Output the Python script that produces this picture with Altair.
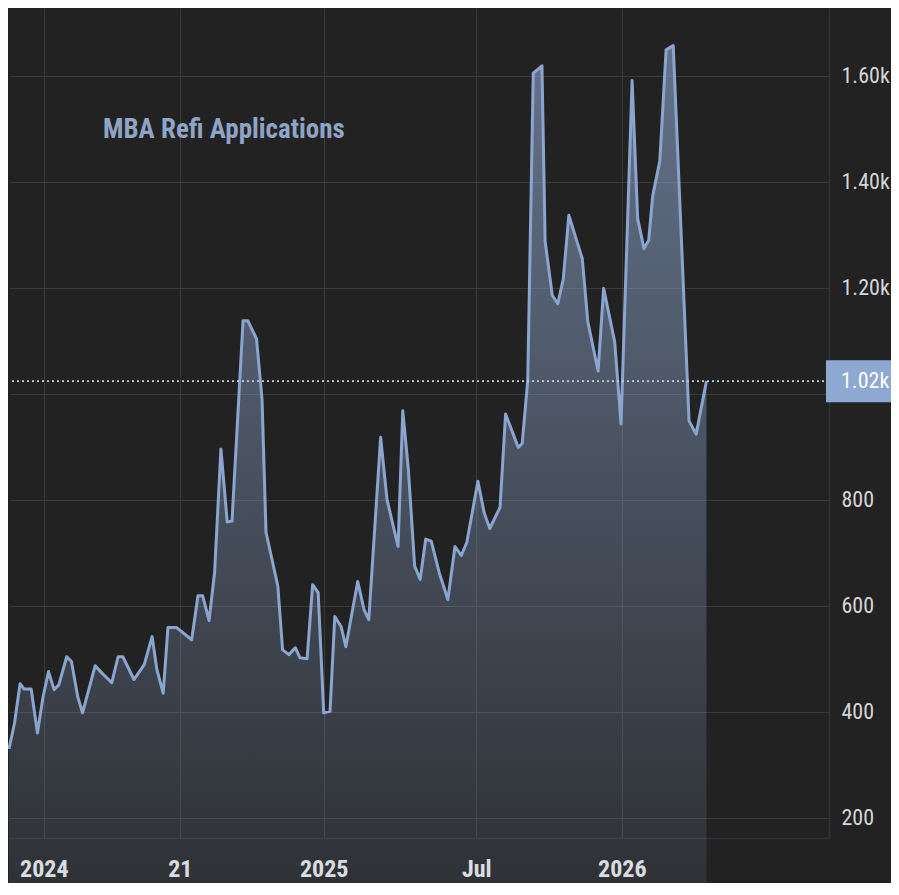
import altair as alt
import pandas as pd

# ---- data (days after 2024-01-01, weekly MBA refi index) ----
base_date = "2024-01-01"
day_offsets = [-44, -37, -30, -25, -16, -8, -1, 6, 13, 19,
               29, 35, 43, 49, 65, 73, 86, 94, 100, 114,
               127, 137, 143, 151, 157, 168, 187, 195, 201, 209,
               216, 224, 232, 238, 252, 258, 269, 276, 281, 296,
               302, 310, 318, 324, 333, 340, 347, 354, 362, 368,
               376, 382, 397, 405, 411, 426, 434, 448, 454, 461,
               469, 476, 483, 490, 500, 511, 520, 528, 535, 549,
               557, 564, 577, 584, 600, 605, 612, 619, 630, 634,
               643, 650, 657, 664, 681, 688, 701, 708, 722, 730,
               744, 751, 759, 765, 770, 779, 787, 796, 816, 825,
               838]
refi_values = [330, 379, 453, 443, 443, 360, 428, 476, 442, 451,
               504, 495, 428, 398, 487, 474, 455, 504, 504, 461,
               489, 542, 480, 435, 559, 559, 536, 619, 619, 572,
               663, 896, 758, 760, 1138, 1138, 1104, 990, 739, 637,
               517, 508, 521, 502, 500, 640, 625, 398, 401, 580,
               561, 523, 646, 593, 574, 918, 801, 712, 968, 858,
               675, 650, 726, 722, 663, 612, 712, 695, 720, 835,
               775, 746, 786, 962, 899, 906, 1025, 1605, 1619, 1288,
               1186, 1170, 1217, 1337, 1255, 1136, 1043, 1199, 1098, 943,
               1591, 1331, 1274, 1290, 1373, 1439, 1649, 1657, 949, 924,
               1024]
last_value = 1024
title_text = "MBA Refi Applications"

x_tick_dates = ["2024-01-01", "2024-06-21", "2024-12-20", "2025-07-01", "2026-01-01"]
x_tick_labels = ["2024", "21", "2025", "Jul", "2026"]
y_tick_values = [200, 400, 600, 800, 1000, 1200, 1400, 1600]
x_domain = ["2023-11-18", "2026-09-20"]
y_domain = [162, 1728]

df = pd.DataFrame({
    "date": pd.Timestamp(base_date) + pd.to_timedelta(day_offsets, unit="D"),
    "value": refi_values,
})


def dt(s):
    t = pd.Timestamp(s)
    return alt.DateTime(year=t.year, month=t.month, date=t.day)


FONT = "Roboto Condensed, Liberation Sans Narrow, DejaVu Sans Condensed, sans-serif"
BG = "#222222"
LINE = "#8ba5cf"
GRID = "#3a3a3a"

date_list = "[" + ",".join("'%s'" % d for d in x_tick_dates) + "]"
label_list = "[" + ",".join("'%s'" % l for l in x_tick_labels) + "]"
x_label_expr = f"{label_list}[indexof({date_list}, timeFormat(datum.value, '%Y-%m-%d'))]"

x_enc = alt.X(
    "date:T",
    scale=alt.Scale(domain=[dt(x_domain[0]), dt(x_domain[1])]),
    axis=alt.Axis(
        values=[dt(d) for d in x_tick_dates],
        labelExpr=x_label_expr,
        title=None,
        grid=True, gridColor=GRID, gridWidth=1,
        domain=True, domainColor="#302f3c", domainWidth=1.5,
        ticks=False, tickSize=0,
        labelPadding=19, labelFont=FONT, labelFontSize=24,
        labelFontWeight="bold", labelColor="#e4e4e4",
        labelFlush=False, labelOverlap=False,
    ),
)
y_enc = alt.Y(
    "value:Q",
    scale=alt.Scale(domain=y_domain, nice=False, zero=False),
    axis=alt.Axis(
        orient="right",
        values=y_tick_values,
        labelExpr="datum.value >= 1000 ? format(datum.value / 1000, '.2f') + 'k' : format(datum.value, 'd')",
        title=None,
        grid=True, gridColor=GRID, gridWidth=1,
        domain=True, domainColor="#302f3c", domainWidth=1.5,
        ticks=False, tickSize=0,
        labelPadding=12, labelAlign="left", labelBaseline="middle",
        labelFont=FONT, labelFontSize=22, labelColor="#d6d6d6",
    ),
)

area = alt.Chart(df).mark_area(
    line=False,
    interpolate="linear",
    color=alt.Gradient(
        gradient="linear",
        stops=[
            alt.GradientStop(color="rgba(143,168,208,0.6)", offset=0),
            alt.GradientStop(color="rgba(143,168,208,0.09)", offset=1),
        ],
        x1=0, x2=0, y1=0, y2=1,
    ),
).encode(x=x_enc, y=y_enc)

line = alt.Chart(df).mark_line(color=LINE, strokeWidth=3, strokeJoin="round").encode(
    x="date:T", y="value:Q"
)

last_df = pd.DataFrame({"value": [last_value]})

price_rule = alt.Chart(last_df).mark_rule(
    color="#c6cedc", strokeDash=[2, 3], strokeWidth=1.6
).encode(y="value:Q")

price_box = alt.Chart(last_df).mark_tick(
    orient="horizontal", color="#8ea8d2", size=72, thickness=42, opacity=1
).encode(y="value:Q", x=alt.value(853))

price_text = alt.Chart(last_df).transform_calculate(
    lbl="format(datum.value / 1000, '.2f') + 'k'"
).mark_text(
    align="left", baseline="middle", font=FONT, fontSize=22, color="#ffffff"
).encode(y="value:Q", x=alt.value(832), text="lbl:N")

title = alt.Chart(pd.DataFrame({"t": [title_text]})).mark_text(
    align="left", baseline="alphabetic", font=FONT, fontSize=27,
    fontWeight="bold", color="#8fa4c6"
).encode(text="t:N", x=alt.value(94), y=alt.value(130))

chart = alt.layer(area, line, price_rule, price_box, price_text, title).properties(
    width=820,
    height=830,
    background=BG,
    padding={"left": 1, "top": 0, "right": 62, "bottom": 45},
    autosize=alt.AutoSizeParams(type="none"),
).configure_view(stroke=None, fill=BG)

chart.save("out.html", embed_options={"renderer": "svg", "actions": False})
